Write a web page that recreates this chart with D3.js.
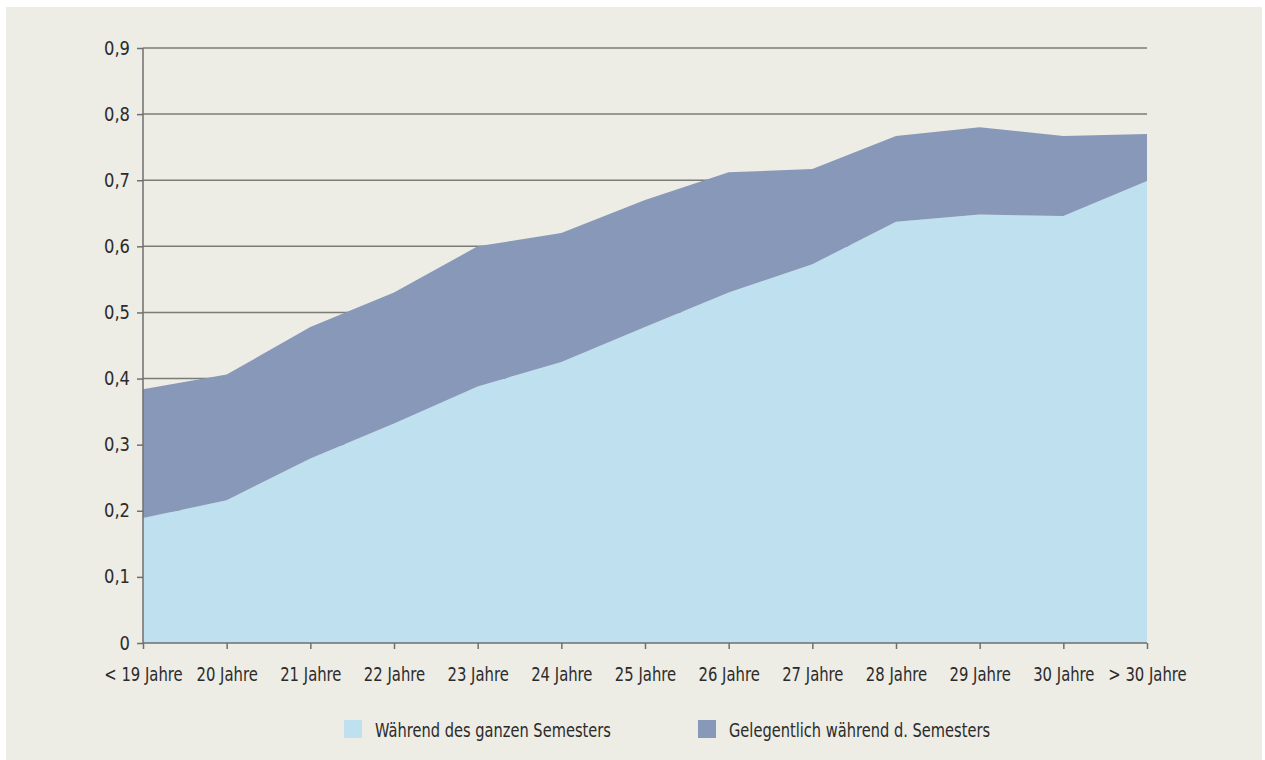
<!DOCTYPE html>
<html>
<head>
<meta charset="utf-8">
<script src="https://cdn.jsdelivr.net/npm/d3@7"></script>
<style>
  body { margin: 0; background: #fff; }
  svg text { font-family: "DejaVu Sans", sans-serif; fill: #2b2b2b; }
</style>
</head>
<body>
<svg id="chart" width="1265" height="760"></svg>
<script>
// Anteil erwerbstätiger Studierender nach Alter
var categories = ["< 19 Jahre", "20 Jahre", "21 Jahre", "22 Jahre", "23 Jahre", "24 Jahre",
  "25 Jahre", "26 Jahre", "27 Jahre", "28 Jahre", "29 Jahre", "30 Jahre", "> 30 Jahre"];
var ganzesSemester = [0.189, 0.216, 0.279, 0.332, 0.388, 0.425, 0.478, 0.530, 0.573, 0.637, 0.648, 0.646, 0.699];
var gelegentlich   = [0.195, 0.190, 0.199, 0.198, 0.212, 0.195, 0.192, 0.182, 0.144, 0.130, 0.132, 0.121, 0.071];
var seriesNames = ["Während des ganzen Semesters", "Gelegentlich während d. Semesters"];
var yTicks = [0, 0.1, 0.2, 0.3, 0.4, 0.5, 0.6, 0.7, 0.8, 0.9];

var colors = ["#bee0ef", "#8798b9"];
var fontSize = "19px";

var svg = d3.select("#chart"),
    margin = {top: 48, right: 118, bottom: 117, left: 143},
    width = 1265 - margin.left - margin.right,
    height = 760 - margin.top - margin.bottom;

svg.append("rect")
    .attr("x", 6).attr("y", 7)
    .attr("width", 1256).attr("height", 753)
    .attr("fill", "#edece5");

var g = svg.append("g").attr("transform", "translate(" + margin.left + "," + margin.top + ")");

var x = d3.scalePoint().domain(categories).range([0, width]);
var y = d3.scaleLinear().domain([0, 0.9]).range([height, 0]);

var rows = categories.map(function(c, i) {
  return {cat: c, a: ganzesSemester[i], b: gelegentlich[i]};
});
var layers = d3.stack().keys(["a", "b"])(rows);

// gridlines sit behind the areas
g.selectAll(".grid")
  .data(yTicks.filter(function(d) { return d > 0; }))
  .enter().append("line")
    .attr("x1", 0).attr("x2", width)
    .attr("y1", function(d) { return y(d); })
    .attr("y2", function(d) { return y(d); })
    .attr("stroke", "#7b7b78")
    .attr("stroke-width", 1.5);

var area = d3.area()
    .x(function(d) { return x(d.data.cat); })
    .y0(function(d) { return y(d[0]); })
    .y1(function(d) { return y(d[1]); });

g.selectAll(".layer")
  .data(layers)
  .enter().append("path")
    .attr("d", area)
    .attr("fill", function(d, i) { return colors[i]; });

// axes
var yAxis = d3.axisLeft(y).tickValues(yTicks).tickSize(6).tickPadding(7)
    .tickFormat(function(d) { return d === 0 ? "0" : d3.format(".1f")(d).replace(".", ","); });
var xAxis = d3.axisBottom(x).tickSize(6).tickPadding(19);

var ya = g.append("g").call(yAxis);
var xa = g.append("g").attr("transform", "translate(0," + height + ")").call(xAxis);

[ya, xa].forEach(function(a) {
  a.select(".domain").attr("stroke", "#6f6f6f").attr("stroke-width", 1.5);
  a.selectAll(".tick line").attr("stroke", "#6f6f6f").attr("stroke-width", 1.5);
  a.selectAll("text").attr("font-size", fontSize).attr("fill", "#2b2b2b");
});
ya.select(".domain").attr("d", "M0," + y(0.9) + "V" + height);
xa.select(".domain").attr("d", "M0,0H" + width);

// legend
var legend = svg.append("g");
var lx = [344, 698];
seriesNames.forEach(function(name, i) {
  legend.append("rect")
      .attr("x", lx[i]).attr("y", 720)
      .attr("width", 18).attr("height", 18)
      .attr("fill", colors[i]);
  legend.append("text")
      .attr("x", lx[i] + 31).attr("y", 737)
      .attr("font-size", fontSize)
      .text(name);
});

// the original uses a condensed face, so squeeze the labels
function squeeze(sel, k) {
  sel.each(function() {
    var len = this.getComputedTextLength();
    d3.select(this).attr("textLength", len * k).attr("lengthAdjust", "spacingAndGlyphs");
  });
}
squeeze(ya.selectAll("text"), 0.86);
squeeze(xa.selectAll("text"), 0.78);
squeeze(legend.selectAll("text"), 0.77);
</script>
</body>
</html>
